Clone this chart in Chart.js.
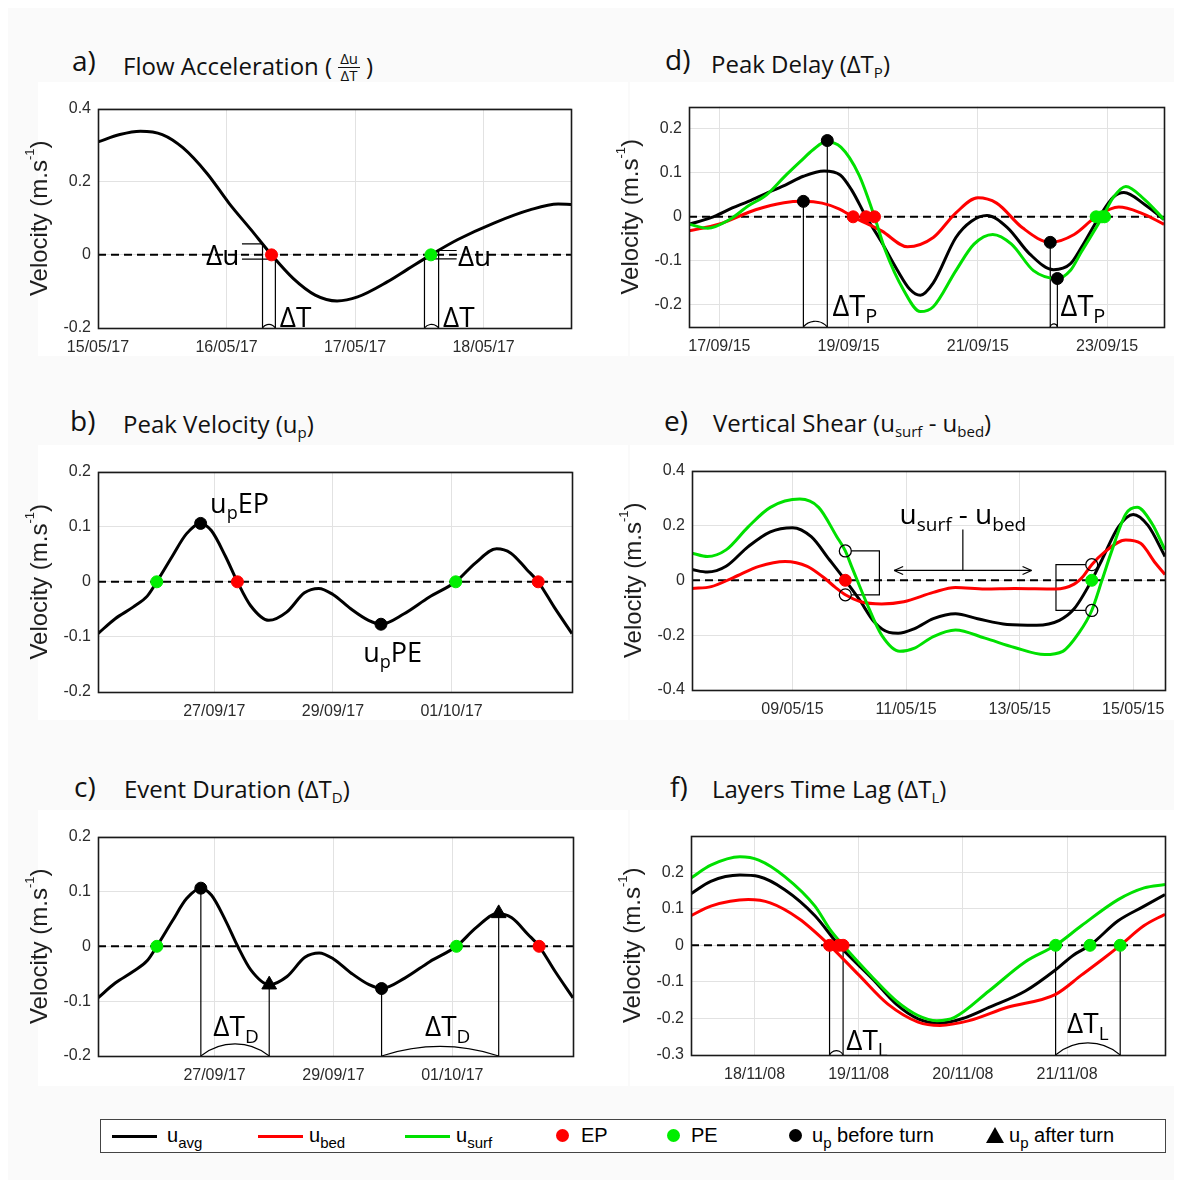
<!DOCTYPE html>
<html>
<head>
<meta charset="utf-8">
<title>Flow reversal metrics</title>
<script src="https://cdn.jsdelivr.net/npm/chart.js@4.4.1/dist/chart.umd.min.js"></script>
<style>
html,body{margin:0;padding:0;background:#fff}
body{width:1182px;height:1187px;position:relative;overflow:hidden}
.sheet{position:absolute;left:8px;top:8px;width:1166px;height:1172px;background:#fafafa}
.box{position:absolute;background:#fff}
canvas{position:absolute}
.tag,.ttl{position:absolute;font-family:"Open Sans",sans-serif;color:#111;line-height:1;white-space:nowrap}
.tag{font-size:28px}
.ttl{font-size:24px}
.ttl sub{font-size:15px;vertical-align:-5px;line-height:0}
.frac{display:inline-block;vertical-align:-6px;font-size:15px;text-align:center;line-height:1.05;margin:0 6px}
.frac span{display:block;padding:0 2px}
.frac span:first-child{border-bottom:1px solid #111}
#legend{position:absolute;left:100px;top:1119px;width:1064px;height:32px;border:1px solid #444;background:#fff;font-family:"Liberation Sans",Arial,sans-serif;font-size:20px;color:#000}
#legend .ln{position:absolute;top:15px;width:45px;height:3px}
#legend .dt{position:absolute;top:9px;width:13px;height:13px;border-radius:50%}
#legend .tri{position:absolute;top:7px;width:0;height:0;border-left:9px solid transparent;border-right:9px solid transparent;border-bottom:16px solid #000}
#legend .tx{position:absolute;top:5px;line-height:1;white-space:nowrap}
#legend sub{font-size:15px;vertical-align:-6px;line-height:0}
</style>
</head>
<body>
<div class="sheet"></div>
<div class="box" style="left:38px;top:82px;width:590px;height:274px"></div>
<div class="box" style="left:630px;top:82px;width:544px;height:274px"></div>
<div class="box" style="left:38px;top:445px;width:590px;height:275px"></div>
<div class="box" style="left:630px;top:445px;width:544px;height:275px"></div>
<div class="box" style="left:38px;top:810px;width:590px;height:276px"></div>
<div class="box" style="left:630px;top:810px;width:544px;height:276px"></div>

<div class="tag" style="left:72px;top:46px">a)</div>
<div class="ttl" style="left:123px;top:51px">Flow Acceleration (<span class="frac"><span>Δu</span><span>ΔT</span></span>)</div>
<div class="tag" style="left:70px;top:406px">b)</div>
<div class="ttl" style="left:123px;top:412px">Peak Velocity (u<sub>p</sub>)</div>
<div class="tag" style="left:74px;top:772px">c)</div>
<div class="ttl" style="left:124px;top:777px">Event Duration (ΔT<sub>D</sub>)</div>
<div class="tag" style="left:665px;top:45px">d)</div>
<div class="ttl" style="left:711px;top:52px">Peak Delay (ΔT<sub>P</sub>)</div>
<div class="tag" style="left:664px;top:406px">e)</div>
<div class="ttl" style="left:713px;top:411px">Vertical Shear (u<sub>surf</sub> - u<sub>bed</sub>)</div>
<div class="tag" style="left:670px;top:772px">f)</div>
<div class="ttl" style="left:712px;top:777px">Layers Time Lag (ΔT<sub>L</sub>)</div>

<div id="legend">
  <div class="ln" style="left:11px;background:#000"></div><div class="tx" style="left:66px">u<sub>avg</sub></div>
  <div class="ln" style="left:157px;background:#ff0000"></div><div class="tx" style="left:208px">u<sub>bed</sub></div>
  <div class="ln" style="left:304px;background:#00e000"></div><div class="tx" style="left:355px">u<sub>surf</sub></div>
  <div class="dt" style="left:455px;background:#ff0000"></div><div class="tx" style="left:480px">EP</div>
  <div class="dt" style="left:566px;background:#00ee00"></div><div class="tx" style="left:590px">PE</div>
  <div class="dt" style="left:688px;background:#000"></div><div class="tx" style="left:711px">u<sub>p</sub> before turn</div>
  <div class="tri" style="left:885px"></div><div class="tx" style="left:908px">u<sub>p</sub> after turn</div>
</div>

<script>
// ---------------- data ----------------
// a) depth-averaged velocity around a flow reversal (days of May 2017)
const aDays = [15.0,15.17,15.33,15.5,15.66,15.85,16.02,16.19,16.35,16.52,16.69,16.86,17.02,17.25,17.41,17.59,17.8,18.08,18.36,18.58,18.68];
const aAvg  = [0.309,0.329,0.338,0.329,0.293,0.222,0.141,0.069,0.0,-0.065,-0.11,-0.126,-0.115,-0.074,-0.039,0.0,0.042,0.087,0.123,0.139,0.138];
const aEP = [16.35];
const aPE = [17.59];
const aWindows = [[16.28,16.38],[17.54,17.65]];
const aXTicks = [15,16,17,18];
const aXLabels = ['15/05/17','16/05/17','17/05/17','18/05/17'];
const aYTicks = [-0.2,0,0.2,0.4];

// b) and c) share one velocity record (days counted from 1 Sep 2017)
const evDays = [25.04,25.33,25.63,25.87,26.03,26.29,26.53,26.77,26.95,27.19,27.39,27.61,27.92,28.22,28.52,28.76,29.0,29.3,29.6,29.81,30.2,30.62,31.07,31.4,31.76,32.0,32.27,32.46,32.73,33.03];
const evAvg  = [-0.094,-0.067,-0.046,-0.026,0.0,0.046,0.087,0.106,0.093,0.046,0.0,-0.043,-0.07,-0.055,-0.02,-0.012,-0.023,-0.049,-0.07,-0.077,-0.058,-0.028,0.0,0.034,0.06,0.052,0.022,0.0,-0.046,-0.094];
const bEP = [27.39,32.46];
const bPE = [26.03,31.07];
const bPeaks = [[26.77,0.106],[29.81,-0.077]];
const cEP = [32.46];
const cPE = [26.03,31.07];
const cBefore = [[26.77,0.106],[29.81,-0.077]];
const cAfter = [[27.92,-0.07],[31.78,0.06]];
const evXTicks = [27,29,31];
const evXLabels = ['27/09/17','29/09/17','01/10/17'];
const evYTicks = [-0.2,-0.1,0,0.1,0.2];

// d) peak delay (days of Sep 2015)
const dAvgDays  = [16.53,16.87,17.2,17.45,17.75,18.02,18.3,18.62,18.87,19.05,19.27,19.5,19.75,19.95,20.11,20.31,20.66,20.9,21.14,21.46,21.8,22.17,22.43,22.6,22.88,23.1,23.26,23.58,23.88];
const dAvg      = [-0.017,-0.002,0.02,0.035,0.055,0.072,0.092,0.104,0.095,0.06,0.0,-0.055,-0.12,-0.165,-0.178,-0.15,-0.047,-0.01,0.003,-0.025,-0.084,-0.12,-0.107,-0.07,0.0,0.045,0.055,0.028,-0.006];
const dSurfDays = [16.53,16.82,17.16,17.45,17.73,18.0,18.25,18.45,18.65,18.88,19.16,19.4,19.57,19.85,20.11,20.31,20.66,20.94,21.23,21.52,21.86,22.23,22.43,22.6,22.93,23.1,23.29,23.58,23.88];
const dSurf     = [-0.017,-0.026,-0.006,0.025,0.05,0.09,0.125,0.152,0.17,0.158,0.095,0.0,-0.077,-0.166,-0.215,-0.204,-0.122,-0.062,-0.04,-0.062,-0.122,-0.14,-0.122,-0.08,0.0,0.045,0.069,0.039,-0.006];
const dBedDays  = [16.53,16.99,17.56,18.0,18.3,18.59,18.85,19.07,19.51,19.91,20.31,20.66,21.0,21.29,21.69,22.12,22.49,22.83,23.18,23.52,23.88];
const dBed      = [-0.032,-0.017,0.016,0.032,0.035,0.031,0.018,0.0,-0.032,-0.068,-0.047,0.009,0.043,0.031,-0.025,-0.058,-0.04,0.0,0.022,0.009,-0.017];
const dBefore = [[18.30,0.035],[18.67,0.173],[22.12,-0.058],[22.23,-0.14]];
const dEP = [19.07,19.27,19.40];
const dPE = [22.83,22.92,22.96];
const dXTicks = [17,19,21,23];
const dXLabels = ['17/09/15','19/09/15','21/09/15','23/09/15'];
const dYTicks = [-0.2,-0.1,0,0.1,0.2];

// e) vertical shear (days of May 2015)
const eAvgDays  = [7.23,7.5,7.83,8.22,8.61,9.0,9.33,9.65,9.93,10.17,10.44,10.7,10.86,11.15,11.48,11.87,12.26,12.78,13.3,13.7,13.96,14.27,14.45,14.74,15.0,15.26,15.56];
const eAvg      = [0.039,0.030,0.051,0.123,0.177,0.192,0.159,0.075,0.0,-0.068,-0.152,-0.19,-0.193,-0.176,-0.14,-0.122,-0.14,-0.161,-0.164,-0.146,-0.104,0.0,0.075,0.195,0.24,0.2,0.087];
const eSurfDays = [7.23,7.5,7.83,8.22,8.61,9.13,9.46,9.78,9.93,10.04,10.3,10.57,10.89,11.15,11.48,11.87,12.39,12.91,13.44,13.76,14.05,14.27,14.45,14.61,14.87,15.07,15.33,15.56];
const eSurf     = [0.099,0.087,0.111,0.195,0.266,0.296,0.266,0.159,0.107,0.051,-0.08,-0.2,-0.259,-0.247,-0.205,-0.181,-0.211,-0.245,-0.271,-0.259,-0.19,-0.11,0.0,0.1,0.242,0.266,0.207,0.111];
const eBedDays  = [7.23,7.57,7.96,8.41,8.87,9.26,9.55,9.75,9.93,10.2,10.57,10.96,11.48,11.87,12.39,12.91,13.63,13.96,14.12,14.27,14.48,14.87,15.13,15.39,15.56];
const eBed      = [-0.03,-0.023,0.01,0.051,0.069,0.051,0.01,-0.025,-0.053,-0.078,-0.086,-0.078,-0.044,-0.026,-0.032,-0.03,-0.032,-0.014,0.015,0.057,0.1,0.147,0.135,0.063,0.021];
const eEP = [9.93];
const ePE = [14.27];
const eLayerPts = [[9.93,0.107],[9.93,-0.053],[14.27,0.057],[14.27,-0.11]];
const eXTicks = [9,11,13,15];
const eXLabels = ['09/05/15','11/05/15','13/05/15','15/05/15'];
const eYTicks = [-0.4,-0.2,0,0.2,0.4];

// f) layers time lag (days of Nov 2008)
const fSurfDays = [17.39,17.58,17.86,18.04,18.29,18.58,18.72,18.85,19.14,19.36,19.57,19.75,19.92,20.25,20.6,20.89,21.14,21.49,21.74,21.94];
const fSurf     = [0.184,0.219,0.242,0.233,0.188,0.107,0.045,0.0,-0.09,-0.152,-0.192,-0.206,-0.197,-0.125,-0.045,0.0,0.054,0.125,0.157,0.166];
const fAvgDays  = [17.39,17.58,17.86,18.04,18.29,18.58,18.81,19.14,19.36,19.57,19.78,19.99,20.25,20.6,20.89,21.06,21.22,21.49,21.74,21.94];
const fAvg      = [0.141,0.175,0.192,0.188,0.152,0.081,0.0,-0.094,-0.161,-0.201,-0.213,-0.201,-0.17,-0.125,-0.067,-0.027,0.0,0.067,0.107,0.139];
const fBedDays  = [17.39,17.58,17.94,18.15,18.43,18.72,19.0,19.28,19.57,19.78,20.06,20.42,20.89,21.14,21.35,21.51,21.74,21.94];
const fBed      = [0.081,0.107,0.125,0.116,0.072,0.0,-0.081,-0.161,-0.21,-0.219,-0.206,-0.17,-0.134,-0.081,-0.036,0.0,0.054,0.085];
const fEP = [18.72,18.81,18.85];
const fPE = [20.89,21.22,21.51];
const fXTicks = [18,19,20,21];
const fXLabels = ['18/11/08','19/11/08','20/11/08','21/11/08'];
const fYTicks = [-0.3,-0.2,-0.1,0,0.1,0.2];

// ---------------- drawing helpers ----------------
const TICK_FONT = '"Liberation Sans", Arial, sans-serif';
const ANN_FONT = '"Open Sans", "Noto Sans", sans-serif';
const C_AVG = '#000000', C_BED = '#ff0000', C_SURF = '#00e000', C_PE = '#00ee00';

function interp(xs, ys, x) {
  for (let i = 1; i < xs.length; i++) {
    if (x <= xs[i]) { const t = (x - xs[i-1]) / (xs[i] - xs[i-1]); return ys[i-1] + t * (ys[i] - ys[i-1]); }
  }
  return ys[ys.length - 1];
}
const pts = (xs, ys) => xs.map((x, i) => ({x, y: ys[i]}));
const onZero = xs => xs.map(x => ({x, y: 0}));
const pairPts = arr => arr.map(([x, y]) => ({x, y}));

function curve(xs, ys, color, order) {
  return {data: pts(xs, ys), borderColor: color, borderWidth: 3, pointRadius: 0,
          cubicInterpolationMode: 'monotone', fill: false, order};
}
function marks(data, color, style, r, hollow) {
  return {data, showLine: false, pointStyle: style || 'circle', pointRadius: r || 6,
          pointBackgroundColor: hollow ? 'rgba(0,0,0,0)' : color, pointBorderColor: color,
          pointBorderWidth: hollow ? 1.3 : 1, order: 0};
}

// text made of normal / subscript (1) / superscript (2) runs
function drawParts(ctx, parts, x, y, size, align, family, ratio) {
  const fam = family || ANN_FONT, r = ratio || 0.68;
  const f = k => (k ? Math.round(size * r) : size) + 'px ' + fam;
  const ws = parts.map(([t, k]) => { ctx.font = f(k); return ctx.measureText(t).width; });
  const total = ws.reduce((a, b) => a + b, 0);
  let cx = x - (align === 'center' ? total / 2 : align === 'right' ? total : 0);
  ctx.textAlign = 'left';
  parts.forEach(([t, k], i) => {
    ctx.font = f(k);
    ctx.fillText(t, cx, y + (k === 1 ? size * 0.24 : k === 2 ? -size * 0.4 : 0));
    cx += ws[i];
  });
}

function seg(ctx, x1, y1, x2, y2) { ctx.beginPath(); ctx.moveTo(x1, y1); ctx.lineTo(x2, y2); ctx.stroke(); }

function drawOp(chart, op) {
  const {ctx, chartArea: area, scales: {x, y}} = chart;
  const X = v => x.getPixelForValue(v), Y = v => y.getPixelForValue(v);
  ctx.strokeStyle = '#000'; ctx.fillStyle = '#000'; ctx.lineWidth = op.w || 1.2;
  if (op.k === 'v') seg(ctx, X(op.x), Y(op.y), X(op.x), op.y2 === undefined ? area.bottom : Y(op.y2));
  else if (op.k === 'h') seg(ctx, X(op.x1), Y(op.y), X(op.x2), Y(op.y));
  else if (op.k === 'arc') {
    const x1 = X(op.x1), x2 = X(op.x2), b = area.bottom, top = Y(op.top);
    const w = (x2 - x1) / 2, h = b - top, R = (h * h + w * w) / (2 * h);
    const cx = (x1 + x2) / 2, cy = top + R;
    ctx.beginPath(); ctx.arc(cx, cy, R, Math.atan2(b - cy, x1 - cx), Math.atan2(b - cy, x2 - cx)); ctx.stroke();
  } else if (op.k === 'arrow') {
    const x1 = X(op.x1), x2 = X(op.x2), yy = Y(op.y), L = 9, s = 4;
    seg(ctx, x1, yy, x2, yy);
    seg(ctx, x1, yy, x1 + L, yy - s); seg(ctx, x1, yy, x1 + L, yy + s);
    seg(ctx, x2, yy, x2 - L, yy - s); seg(ctx, x2, yy, x2 - L, yy + s);
  } else if (op.k === 'bracket') {
    const dir = op.x2 > op.x ? 1 : -1, x0 = X(op.x) + dir * 6, x2 = X(op.x2), y1 = Y(op.y1), y2 = Y(op.y2);
    ctx.beginPath(); ctx.moveTo(x0, y1); ctx.lineTo(x2, y1); ctx.lineTo(x2, y2); ctx.lineTo(x0, y2); ctx.stroke();
  } else if (op.k === 't') {
    ctx.textBaseline = 'alphabetic';
    drawParts(ctx, op.parts, X(op.x), Y(op.y), op.size || 28, op.align || 'left');
  }
}

const decor = {
  id: 'decor',
  beforeDraw(chart) {
    const {ctx, chartArea: a} = chart;
    ctx.save(); ctx.fillStyle = '#fff'; ctx.fillRect(a.left, a.top, a.right - a.left, a.bottom - a.top); ctx.restore();
  },
  beforeDatasetsDraw(chart) {
    const o = chart.options.plugins.decor || {};
    const {ctx, chartArea: a, scales: {y}} = chart;
    ctx.save();
    ctx.beginPath(); ctx.rect(a.left, a.top, a.right - a.left, a.bottom - a.top); ctx.clip();
    const y0 = y.getPixelForValue(0);
    ctx.setLineDash([8, 5]); ctx.lineWidth = 2; ctx.strokeStyle = '#000';
    seg(ctx, a.left, y0, a.right, y0);
    ctx.setLineDash([]);
    (o.lines || []).forEach(op => drawOp(chart, op));
    ctx.restore();
  },
  afterDatasetsDraw(chart) {
    const o = chart.options.plugins.decor || {};
    const {ctx, chartArea: a} = chart;
    ctx.save();
    (o.texts || []).forEach(op => drawOp(chart, Object.assign({k: 't'}, op)));
    ctx.lineWidth = 1.6; ctx.strokeStyle = '#1a1a1a';
    ctx.strokeRect(Math.round(a.left) + 0.5, Math.round(a.top) + 0.5, Math.round(a.right - a.left), Math.round(a.bottom - a.top));
    // y-axis title with superscript
    ctx.fillStyle = '#1e1e1e';
    ctx.translate(a.left - 58, (a.top + a.bottom) / 2);
    ctx.rotate(-Math.PI / 2);
    ctx.textBaseline = 'middle';
    drawParts(ctx, [['Velocity (m.s', 0], ['-1', 2], [')', 0]], 0, 0, 24, 'center', TICK_FONT, 0.55);
    ctx.restore();
  }
};

function axes(xMin, xMax, xTicks, xLabels, yMin, yMax, yTicks) {
  const tickFont = {family: TICK_FONT, size: 16};
  const grid = {color: '#e2e2e2', lineWidth: 1, drawTicks: false};
  return {
    x: {type: 'linear', min: xMin, max: xMax,
        afterBuildTicks: s => { s.ticks = xTicks.map(v => ({value: v})); },
        afterFit: s => { s.height = 36; },
        grid, border: {display: false},
        ticks: {autoSkip: false, maxRotation: 0, padding: 10, color: '#2b2b2b', font: tickFont,
                callback: (v, i) => xLabels[i]}},
    y: {type: 'linear', min: yMin, max: yMax,
        afterBuildTicks: s => { s.ticks = yTicks.map(v => ({value: v})); },
        afterFit: s => { s.width = 80; },
        grid, border: {display: false},
        ticks: {padding: 7, color: '#2b2b2b', font: tickFont, callback: (v, i) => String(yTicks[i])}}
  };
}

function panel(frame, datasets, scales, deco) {
  const cv = document.createElement('canvas');
  const w = frame.r - frame.l + 92, h = frame.b - frame.t + 48;
  cv.width = w; cv.height = h;
  cv.style.left = (frame.l - 80) + 'px'; cv.style.top = (frame.t - 12) + 'px';
  cv.style.width = w + 'px'; cv.style.height = h + 'px';
  document.body.appendChild(cv);
  return new Chart(cv, {
    type: 'line',
    data: {datasets},
    options: {animation: false, responsive: false, devicePixelRatio: 1, events: [],
              layout: {padding: {top: 12, right: 12, left: 0, bottom: 0}},
              plugins: {legend: {display: false}, tooltip: {enabled: false}, decor: deco},
              scales},
    plugins: [decor]
  });
}

// ---------------- a) flow acceleration ----------------
(function () {
  const lines = [], texts = [];
  aWindows.forEach(([x1, x2], i) => {
    const v1 = interp(aDays, aAvg, x1), v2 = interp(aDays, aAvg, x2);
    lines.push({k: 'v', x: x1, y: v1}, {k: 'v', x: x2, y: v2}, {k: 'arc', x1, x2, top: -0.19});
    if (i === 0) {
      lines.push({k: 'h', x1: 16.12, x2: x1, y: v1}, {k: 'h', x1: 16.12, x2: x2, y: v2});
      texts.push({x: 16.10, y: -0.027, parts: [['Δu', 0]], size: 28, align: 'right'});
    } else {
      lines.push({k: 'h', x1: x2, x2: 17.79, y: v2}, {k: 'h', x1: x1, x2: 17.79, y: v1});
      texts.push({x: 17.80, y: -0.03, parts: [['Δu', 0]], size: 28});
    }
    texts.push({x: x2 + 0.035, y: -0.196, parts: [['ΔT', 0]], size: 28});
  });
  panel({l: 98, t: 104, r: 571, b: 328},
    [marks(onZero(aEP), C_BED), marks(onZero(aPE), C_PE), curve(aDays, aAvg, C_AVG, 3)],
    axes(15.0, 18.68, aXTicks, aXLabels, -0.2, 0.4, aYTicks),
    {lines, texts});
})();

// ---------------- b) peak velocity ----------------
panel({l: 98, t: 467, r: 572, b: 692},
  [marks(pairPts(bPeaks), '#000'), marks(onZero(bEP), C_BED), marks(onZero(bPE), C_PE), curve(evDays, evAvg, C_AVG, 3)],
  axes(25.04, 33.03, evXTicks, evXLabels, -0.2, 0.2, evYTicks),
  {lines: [], texts: [
    {x: bPeaks[0][0] + 0.16, y: 0.125, parts: [['u', 0], ['p', 1], ['EP', 0]], size: 27},
    {x: bPeaks[1][0] - 0.3, y: -0.145, parts: [['u', 0], ['p', 1], ['PE', 0]], size: 27}
  ]});

// ---------------- c) event duration ----------------
(function () {
  const lines = [];
  cBefore.forEach(([x, y]) => lines.push({k: 'v', x, y}));
  cAfter.forEach(([x, y]) => lines.push({k: 'v', x, y}));
  lines.push({k: 'arc', x1: cBefore[0][0], x2: cAfter[0][0], top: -0.178});
  lines.push({k: 'arc', x1: cBefore[1][0], x2: cAfter[1][0], top: -0.183});
  panel({l: 98, t: 832, r: 573, b: 1056},
    [marks(pairPts(cBefore), '#000'), marks(pairPts(cAfter), '#000', 'triangle', 8.5),
     marks(onZero(cEP), C_BED), marks(onZero(cPE), C_PE), curve(evDays, evAvg, C_AVG, 3)],
    axes(25.04, 33.03, evXTicks, evXLabels, -0.2, 0.2, evYTicks),
    {lines, texts: [
      {x: 26.98, y: -0.164, parts: [['ΔT', 0], ['D', 1]], size: 28},
      {x: 30.54, y: -0.164, parts: [['ΔT', 0], ['D', 1]], size: 28}
    ]});
})();

// ---------------- d) peak delay ----------------
(function () {
  const lines = dBefore.map(([x, y]) => ({k: 'v', x, y}));
  lines.push({k: 'arc', x1: dBefore[0][0], x2: dBefore[1][0], top: -0.237});
  lines.push({k: 'arc', x1: dBefore[2][0], x2: dBefore[3][0], top: -0.243});
  panel({l: 689, t: 102, r: 1164, b: 327},
    [marks(pairPts(dBefore), '#000'), marks(onZero(dEP), C_BED), marks(onZero(dPE), C_PE),
     curve(dSurfDays, dSurf, C_SURF, 1), curve(dBedDays, dBed, C_BED, 2), curve(dAvgDays, dAvg, C_AVG, 3)],
    axes(16.53, 23.88, dXTicks, dXLabels, -0.25, 0.25, dYTicks),
    {lines, texts: [
      {x: dBefore[1][0] + 0.08, y: -0.226, parts: [['ΔT', 0], ['P', 1]], size: 29},
      {x: dBefore[3][0] + 0.05, y: -0.226, parts: [['ΔT', 0], ['P', 1]], size: 29}
    ]});
})();

// ---------------- e) vertical shear ----------------
(function () {
  const [sL, bL, bR, sR] = eLayerPts;
  const lines = [
    {k: 'bracket', x: sL[0], x2: 10.53, y1: sL[1], y2: bL[1]},
    {k: 'bracket', x: bR[0], x2: 13.64, y1: bR[1], y2: sR[1]},
    {k: 'arrow', x1: 10.79, x2: 13.21, y: 0.036},
    {k: 'v', x: 12.0, y: 0.185, y2: 0.036}
  ];
  panel({l: 692, t: 466, r: 1165, b: 690},
    [marks(pairPts(eLayerPts), '#000', 'circle', 6, true), marks(onZero(eEP), C_BED), marks(onZero(ePE), C_PE),
     curve(eSurfDays, eSurf, C_SURF, 1), curve(eBedDays, eBed, C_BED, 2), curve(eAvgDays, eAvg, C_AVG, 3)],
    axes(7.23, 15.56, eXTicks, eXLabels, -0.4, 0.4, eYTicks),
    {lines, texts: [
      {x: 12.0, y: 0.205, parts: [['u', 0], ['surf', 1], [' - u', 0], ['bed', 1]], size: 28, align: 'center'}
    ]});
})();

// ---------------- f) layers time lag ----------------
(function () {
  const lines = [
    {k: 'v', x: fEP[0], y: 0}, {k: 'v', x: fEP[2], y: 0}, {k: 'arc', x1: fEP[0], x2: fEP[2], top: -0.288},
    {k: 'v', x: fPE[0], y: 0}, {k: 'v', x: fPE[2], y: 0}, {k: 'arc', x1: fPE[0], x2: fPE[2], top: -0.267}
  ];
  panel({l: 691, t: 831, r: 1165, b: 1055},
    [marks(onZero(fEP), C_BED), marks(onZero(fPE), C_PE),
     curve(fSurfDays, fSurf, C_SURF, 1), curve(fBedDays, fBed, C_BED, 2), curve(fAvgDays, fAvg, C_AVG, 3)],
    axes(17.39, 21.94, fXTicks, fXLabels, -0.3, 0.3, fYTicks),
    {lines, texts: [
      {x: fEP[2] + 0.03, y: -0.285, parts: [['ΔT', 0], ['L', 1]], size: 28},
      {x: 21.0, y: -0.24, parts: [['ΔT', 0], ['L', 1]], size: 28}
    ]});
})();
</script>
</body>
</html>
